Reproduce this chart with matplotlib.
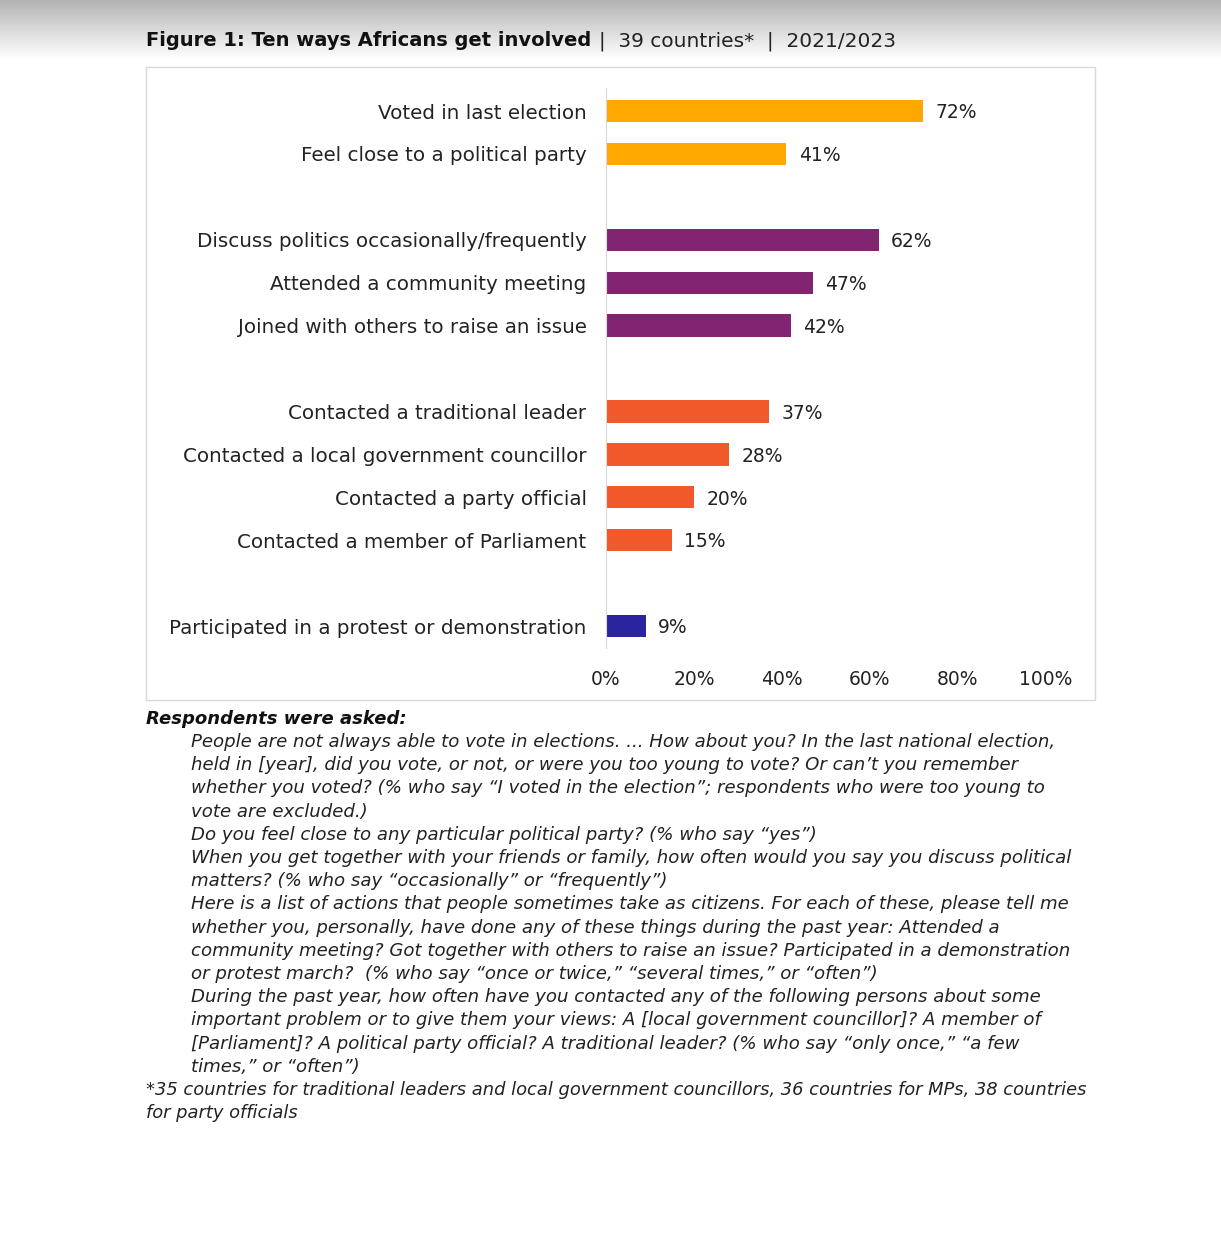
import matplotlib.pyplot as plt
import matplotlib.patches as patches
import numpy as np

# data
labels = [
    'Voted in last election',
    'Feel close to a political party',
    'Discuss politics occasionally/frequently',
    'Attended a community meeting',
    'Joined with others to raise an issue',
    'Contacted a traditional leader',
    'Contacted a local government councillor',
    'Contacted a party official',
    'Contacted a member of Parliament',
    'Participated in a protest or demonstration',
]
values = [72, 41, 62, 47, 42, 37, 28, 20, 15, 9]
groups = [0, 0, 1, 1, 1, 2, 2, 2, 2, 3]
slots = [0, 1, 3, 4, 5, 7, 8, 9, 10, 12]
group_colors = ['#FFA800', '#812570', '#F1582A', '#2A249E']
xticks = [0, 20, 40, 60, 80, 100]

notes = [
    "People are not always able to vote in elections. ... How about you? In the last national election,",
    "held in [year], did you vote, or not, or were you too young to vote? Or can\u2019t you remember",
    "whether you voted? (% who say \u201cI voted in the election\u201d; respondents who were too young to",
    "vote are excluded.)",
    "Do you feel close to any particular political party? (% who say \u201cyes\u201d)",
    "When you get together with your friends or family, how often would you say you discuss political",
    "matters? (% who say \u201coccasionally\u201d or \u201cfrequently\u201d)",
    "Here is a list of actions that people sometimes take as citizens. For each of these, please tell me",
    "whether you, personally, have done any of these things during the past year: Attended a",
    "community meeting? Got together with others to raise an issue? Participated in a demonstration",
    "or protest march?  (% who say \u201conce or twice,\u201d \u201cseveral times,\u201d or \u201coften\u201d)",
    "During the past year, how often have you contacted any of the following persons about some",
    "important problem or to give them your views: A [local government councillor]? A member of",
    "[Parliament]? A political party official? A traditional leader? (% who say \u201conly once,\u201d \u201ca few",
    "times,\u201d or \u201coften\u201d)",
]
footnote = [
    "*35 countries for traditional leaders and local government councillors, 36 countries for MPs, 38 countries",
    "for party officials",
]

plt.rcParams['font.family'] = ['DejaVu Sans']
W, H = 1221, 1238
fig = plt.figure(figsize=(W / 100, H / 100), dpi=100)
fig.patch.set_facecolor('white')

def fx(px):
    return px / W

def fy(py):
    return 1 - py / H

# grey shadow at the top of the screenshot
shade = fig.add_axes([0, fy(60), 1, 60 / H])
grad = np.linspace(0.70, 1.0, 60).reshape(-1, 1)
shade.imshow(grad, cmap='gray', vmin=0, vmax=1, aspect='auto', extent=[0, 1, 0, 1])
shade.axis('off')

# title: bold part, then the plain part right after it
t1 = fig.text(fx(146), fy(41), 'Figure 1: Ten ways Africans get involved', fontsize=14,
              fontweight='bold', va='center', ha='left', color='#111111')
renderer = fig.canvas.get_renderer()
bb = t1.get_window_extent(renderer=renderer)
fig.text(bb.x1 / W + fx(8), fy(41), '|  39 countries*  |  2021/2023', fontsize=14.5,
         va='center', ha='left', color='#222222')

# chart frame
fig.patches.append(patches.Rectangle((fx(146), fy(700)), fx(1095) - fx(146), fy(67) - fy(700),
                                     transform=fig.transFigure, fill=False,
                                     edgecolor='#d9d9d9', linewidth=1))

ax_top, ax_bot = 88, 648
ax = fig.add_axes([fx(606), fy(ax_bot), fx(1046) - fx(606), (ax_bot - ax_top) / H])
colors = [group_colors[g] for g in groups]
ax.barh(slots, values, height=0.52, color=colors)
for s, v in zip(slots, values):
    ax.text(v + 2.8, s + 0.04, f'{v}%', va='center', ha='left', fontsize=13.5, color='#222222')

ax.set_xlim(0, 100)
ax.set_ylim(12.51, -0.536)
ax.set_xticks(xticks)
ax.set_xticklabels([f'{t}%' for t in xticks], fontsize=13.5, color='#222222')
ax.set_yticks(slots)
ax.set_yticklabels(labels, fontsize=14.3, color='#222222')
ax.tick_params(axis='both', length=0)
ax.tick_params(axis='x', pad=16)
ax.tick_params(axis='y', pad=14)
for side in ['top', 'right', 'bottom']:
    ax.spines[side].set_visible(False)
ax.spines['left'].set_color('#d9d9d9')
ax.patch.set_alpha(0)

# notes under the chart
fig.text(fx(146), fy(719), 'Respondents were asked:', fontsize=13, fontweight='bold',
         style='italic', va='center', ha='left', color='#111111')
y = 742
for line in notes:
    fig.text(fx(191), fy(y), line, fontsize=13.1, style='italic', va='center', ha='left',
             color='#222222')
    y += 23.2
for line in footnote:
    fig.text(fx(146), fy(y), line, fontsize=12.9, style='italic', va='center', ha='left',
             color='#222222')
    y += 23.2

fig.savefig('out.png', dpi=100)
